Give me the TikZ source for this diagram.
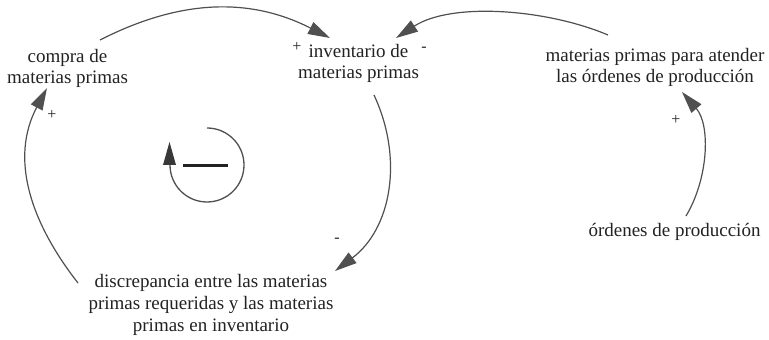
\documentclass[tikz,border=0pt]{standalone}
\usepackage{fontspec}
\setmainfont{Liberation Serif}
\usetikzlibrary{arrows.meta}
\definecolor{lnk}{HTML}{505050}
\definecolor{txt}{HTML}{222222}
\tikzset{
  var/.style={align=center, inner sep=0pt, text=txt, font=\fontsize{19}{21}\selectfont},
  link/.style={draw=lnk, line width=1.2pt, -{Triangle[length=22pt,width=13pt,fill=lnk]}},
  pol/.style={inner sep=0pt, text=txt, font=\fontsize{16}{16}\selectfont},
}
\begin{document}
\begin{tikzpicture}[x=1pt,y=1pt]
\useasboundingbox (0,0) rectangle (769,340);
% variables
\node[var] (compra) at (67.5,272) {compra de\\materias primas};
\node[var] (inv) at (358.5,277) {inventario de\\materias primas};
\node[var] (aten) at (655,273) {materias primas para atender\\las órdenes de producción};
\node[var] (ord) at (674.5,108) {órdenes de producción};
\node[var, font=\fontsize{19}{22}\selectfont] (disc) at (211,35) {discrepancia entre las materias\\primas requeridas y las materias\\primas en inventario};
% connectors
\draw[link] ([shift={(32.5,28)}]compra.center) to[out=27,in=153] ([shift={(-28.5,25)}]inv.center);
\draw[link] ([shift={(-47,32)}]aten.center) to[out=157,in=33,looseness=0.8] ([shift={(37.5,25)}]inv.center);
\draw[link] ([shift={(15.5,-32)}]inv.center) to[out=-65,in=37,looseness=1.0] ([shift={(124,34)}]disc.center);
\draw[link] ([shift={(-133,22)}]disc.center) to[out=128,in=242,looseness=1.02] ([shift={(-20.5,-20)}]compra.center);
\draw[link] ([shift={(11.5,16)}]ord.center) to[out=59,in=311,looseness=0.9] ([shift={(27,-25)}]aten.center);
% polarities
\node[pol] (p1) at (297,293) {+};
\node[pol] (p2) at (424,291) {-};
\node[pol] (p3) at (52,225) {+};
\node[pol] (p4) at (337,100) {-};
\node[pol] (p5) at (676,220) {+};
% loop marker
\draw[draw=lnk, line width=1.3pt] (207,212) arc[start angle=90,end angle=-180,radius=37] -- ++(0,3);
\fill[lnk!70!black] (163,175) -- (176,175) -- (169.5,198) -- cycle;
\draw[txt, line width=3pt] (183,174) -- (228,174);
\end{tikzpicture}
\end{document}
